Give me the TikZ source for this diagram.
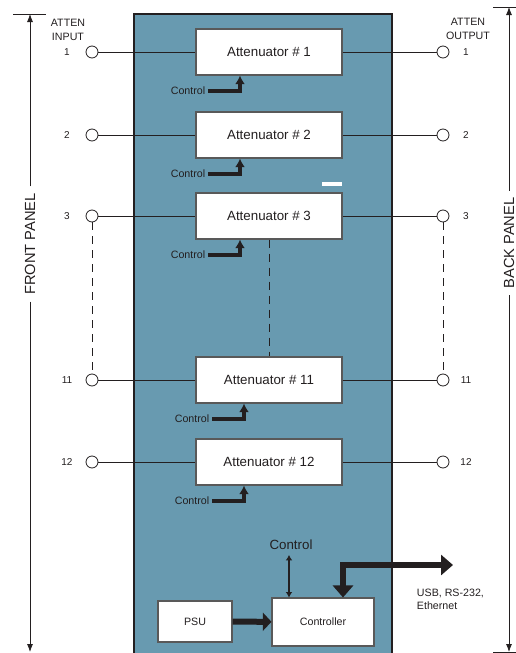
\documentclass[tikz,border=0pt]{standalone}
\usepackage{fontspec}
\setmainfont{Liberation Sans}
\usepackage{xcolor}
\usetikzlibrary{arrows.meta}
\usetikzlibrary{positioning}
\tikzset{>={Latex[length=6pt, width=4.5pt]}}
\definecolor{rackblue}{RGB}{104,154,176}
\definecolor{inkgrey}{RGB}{35,31,32}

\begin{document}
\begin{tikzpicture}[x=0.75pt, y=-0.75pt,
            att/.style={draw=black!65, line width=0.8pt, fill=white, minimum width=109.5pt, minimum height=34.5pt, inner sep=0pt, text=inkgrey, font=\fontsize{10}{12}\selectfont},
            unit/.style={draw=black!65, line width=0.8pt, fill=white, inner sep=0pt, text=inkgrey, font=\fontsize{8}{10}\selectfont},
            port/.style={circle, draw=inkgrey, line width=0.6pt, fill=white, minimum size=9pt, inner sep=0pt},
            num/.style={text=inkgrey, font=\fontsize{7.5}{9}\selectfont},
            ctl/.style={text=inkgrey, inner sep=2pt, font=\fontsize{8}{10}\selectfont},
            ctlarrow/.style={draw=inkgrey, line width=2.6pt, line join=miter, -{Latex[length=6.5pt, width=7.5pt]}},
            wire/.style={draw=inkgrey, line width=0.6pt},
            panel/.style={text=inkgrey, inner xsep=5pt, font=\fontsize{11}{13}\selectfont}
        ]
        \useasboundingbox (0,0) rectangle (516,653);
        % chassis
        \fill[rackblue, draw=inkgrey, line width=0.8pt] (134,14) rectangle (392,660);
        \draw[white, line width=2.5pt] (322,184) -- (342,184);
        % attenuators with ports and control lines
        \foreach \n/\y/\cx/\ax in {1/52/188/240, 2/135/188/240, 3/216/188/240, 11/380/192/244, 12/462/192/244} {
            \node[att] (att\n) at (269,\y) {Attenuator \# \n};
            \node[port] (in\n) at (92,\y) {};
            \node[port] (out\n) at (443,\y) {};
            \node[num] at (67,\y) {\n};
            \node[num] at (466,\y) {\n};
            \draw[wire] (in\n) -- (att\n);
            \draw[wire] (att\n) -- (out\n);
            \node[ctl] (ctl\n) at (\cx,\y+39) {Control};
            \draw[ctlarrow] (ctl\n.east) -| (att\n.south -| \ax,0);
        }
        \draw[wire, dash pattern=on 6pt off 4.5pt] (in3) -- (in11);
        \draw[wire, dash pattern=on 6pt off 4.5pt] (out3) -- (out11);
        \draw[wire, dash pattern=on 6pt off 4.5pt] (att3.south) -- (att11.north);
        \node[num, align=center, font=\fontsize{8}{10}\selectfont] at (68,30) {ATTEN\\INPUT};
        \node[num, align=center, font=\fontsize{8}{10}\selectfont] at (468,29) {ATTEN\\OUTPUT};
        % controller
        \node[unit, minimum width=76.5pt, minimum height=36pt] (ctrl) at (323,622) {Controller};
        \node[unit, minimum width=55.5pt, minimum height=30.75pt] (psu) at (195,621.5) {PSU};
        \draw[draw=inkgrey, line width=4.5pt, -{Triangle[length=6.5pt, width=13.5pt]}] (psu) -- (ctrl);
        \node[ctl, font=\fontsize{10}{12}\selectfont] (ctlmain) at (291,545) {Control};
        \coordinate (ctltop) at (289,555);
        \draw[draw=inkgrey, line width=1.6pt, {Latex[length=4pt, width=5pt]}-{Latex[length=4pt, width=5pt]}] (ctltop) -- (ctltop |- ctrl.north);
        \coordinate (busend) at (453,565);
        \coordinate (buscorner) at (343,565);
        \draw[draw=inkgrey, line width=5pt, line join=miter, {Triangle[length=9pt, width=15pt]}-{Triangle[length=9pt, width=15pt]}] (busend) -- (buscorner) -- (buscorner |- ctrl.north);
        \node[ctl, align=left, anchor=north west] (bus) at (414,586) {USB, RS-232,\\Ethernet};
        % panels
        \node[panel, rotate=90] (front) at (30,244) {FRONT PANEL};
        \coordinate (fronttop) at (30,14);
        \coordinate (frontbot) at (30,652);
        \draw[wire] (13,14) -- (46,14);
        \draw[wire, ->] (front.east) -- (fronttop);
        \draw[wire, ->] (front.west) -- (frontbot);
        \node[panel, rotate=90] (back) at (509,243) {BACK PANEL};
        \coordinate (backtop) at (509,7);
        \coordinate (backbot) at (509,652);
        \draw[wire] (493,7) -- (516,7);
        \draw[wire] (493,652) -- (516,652);
        \draw[wire, ->] (back.east) -- (backtop);
        \draw[wire, ->] (back.west) -- (backbot);
        \end{tikzpicture}
\end{document}
